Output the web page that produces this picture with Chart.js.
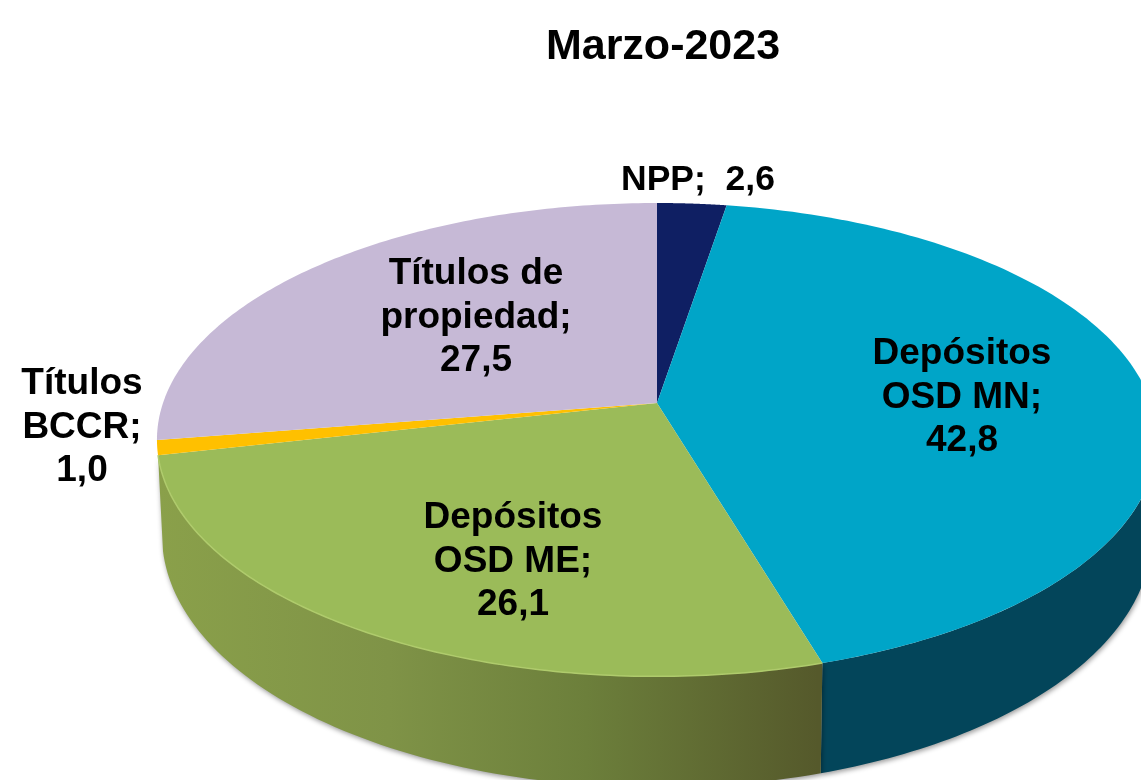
<!DOCTYPE html>
<html lang="es">
<head>
<meta charset="utf-8">
<title>Marzo-2023</title>
<script src="https://cdn.jsdelivr.net/npm/chart.js@4"></script>
<style>
    html, body { margin: 0; background: #fff; overflow: hidden; }
    canvas { display: block; }
</style>
</head>
<body>
<canvas id="graf" width="1141" height="780"></canvas>
<script>
// Datos
const titulo = 'Marzo-2023'
const categorias = ['NPP', 'Depósitos OSD MN', 'Depósitos OSD ME', 'Títulos BCCR', 'Títulos de propiedad']
const valores = [2.6, 42.8, 26.1, 1.0, 27.5]
const etiquetas = [
    ['NPP;  2,6'],
    ['Depósitos', 'OSD MN;', '42,8'],
    ['Depósitos', 'OSD ME;', '26,1'],
    ['Títulos', 'BCCR;', '1,0'],
    ['Títulos de', 'propiedad;', '27,5']
]

// Colores
const colores = ['#0F1F63', '#00A5C8', '#9BBB59', '#FFC000', '#C6B9D6']

// Posición de cada etiqueta (centro de la primera línea) y tamaño de letra
const posEtiquetas = [[698, 180], [962, 354], [513, 518], [82, 384], [476, 274]]
const tamEtiquetas = [35.5, 37, 37, 37, 37]
const altoLinea = 43.5

// Perspectiva del disco
const centroX = 657
const centroY = 403
const radioX = 494
const radioY = 231
const fuga = 0.155

// Proyecta un ángulo del disco sobre la pantalla
function proyectar(angulo) {
    const x = Math.cos(angulo)
    const y = Math.sin(angulo)
    const w = 1 - fuga * y
    return { x: centroX + radioX * x / w, y: centroY + radioY * y / w }
}

// Mismo punto en el borde inferior de la pared
function proyectarBase(angulo) {
    const p = proyectar(angulo)
    return {
        x: centroX + (p.x - centroX) * 0.99,
        y: p.y + 92 + 19 * Math.sin(angulo)
    }
}

function paredVerde(ctx) {
    const g = ctx.createLinearGradient(158, 0, 818, 0)
    g.addColorStop(0, '#8AA04A')
    g.addColorStop(0.35, '#7F9347')
    g.addColorStop(0.65, '#6C7F3B')
    g.addColorStop(1, '#55592B')
    return g
}

// Solo las porciones del frente tienen pared visible
function colorPared(ctx, i) {
    if (i === 1) return '#03455A'
    if (i === 2) return paredVerde(ctx)
    return null
}

function dibujarPared(ctx, arco, i) {
    const color = colorPared(ctx, i)
    if (!color) return
    const ini = Math.max(arco.startAngle, 0)
    const fin = Math.min(arco.endAngle, Math.PI)
    if (fin <= ini) return
    const pasos = 80
    ctx.beginPath()
    for (let k = 0; k <= pasos; k++) {
        const p = proyectar(ini + (fin - ini) * k / pasos)
        if (k === 0) ctx.moveTo(p.x, p.y)
        else ctx.lineTo(p.x, p.y)
    }
    for (let k = pasos; k >= 0; k--) {
        const p = proyectarBase(ini + (fin - ini) * k / pasos)
        ctx.lineTo(p.x, p.y)
    }
    ctx.closePath()
    ctx.save()
    ctx.shadowColor = 'rgba(0,0,0,0.4)'
    ctx.shadowBlur = 5
    ctx.shadowOffsetX = 1
    ctx.shadowOffsetY = 2
    ctx.fillStyle = color
    ctx.fill()
    ctx.restore()
}

function dibujarPorcion(ctx, arco, i) {
    const pasos = 120
    ctx.beginPath()
    ctx.moveTo(centroX, centroY)
    for (let k = 0; k <= pasos; k++) {
        const p = proyectar(arco.startAngle + (arco.endAngle - arco.startAngle) * k / pasos)
        ctx.lineTo(p.x, p.y)
    }
    ctx.closePath()
    ctx.fillStyle = colores[i]
    ctx.fill()
    // Brillo del borde en la porción verde
    if (i === 2) {
        ctx.beginPath()
        for (let k = 0; k <= pasos; k++) {
            const p = proyectar(arco.startAngle + (arco.endAngle - arco.startAngle) * k / pasos)
            if (k === 0) ctx.moveTo(p.x, p.y)
            else ctx.lineTo(p.x, p.y)
        }
        ctx.strokeStyle = '#AFCB6C'
        ctx.lineWidth = 1.5
        ctx.stroke()
    }
}

// El pie se dibuja en perspectiva con los ángulos que calcula Chart.js
const pie3d = {
    id: 'pie3d',
    beforeDatasetDraw(chart, args) {
        const ctx = chart.ctx
        const arcos = args.meta.data
        arcos.forEach((arco, i) => dibujarPared(ctx, arco, i))
        arcos.forEach((arco, i) => dibujarPorcion(ctx, arco, i))
        return false
    },
    afterDatasetsDraw(chart) {
        const ctx = chart.ctx
        ctx.save()
        ctx.fillStyle = '#000'
        ctx.textAlign = 'center'
        ctx.textBaseline = 'middle'
        etiquetas.forEach((lineas, i) => {
            ctx.font = `bold ${tamEtiquetas[i]}px "Liberation Sans", Arial, sans-serif`
            lineas.forEach((linea, j) => {
                ctx.fillText(linea, posEtiquetas[i][0], posEtiquetas[i][1] + j * altoLinea)
            })
        })
        ctx.restore()
    }
}

new Chart(document.getElementById('graf').getContext('2d'), {
    type: 'pie',
    data: {
        labels: categorias,
        datasets: [{ data: valores, backgroundColor: colores, borderWidth: 0 }]
    },
    options: {
        responsive: false,
        animation: false,
        layout: { padding: { left: 185 } },
        plugins: {
            legend: { display: false },
            tooltip: { enabled: false },
            title: {
                display: true,
                text: titulo,
                color: '#000',
                font: { family: '"Liberation Sans", Arial, sans-serif', size: 43, weight: 'bold' },
                padding: { top: 21, bottom: 10 }
            }
        }
    },
    plugins: [pie3d]
})
</script>
</body>
</html>
